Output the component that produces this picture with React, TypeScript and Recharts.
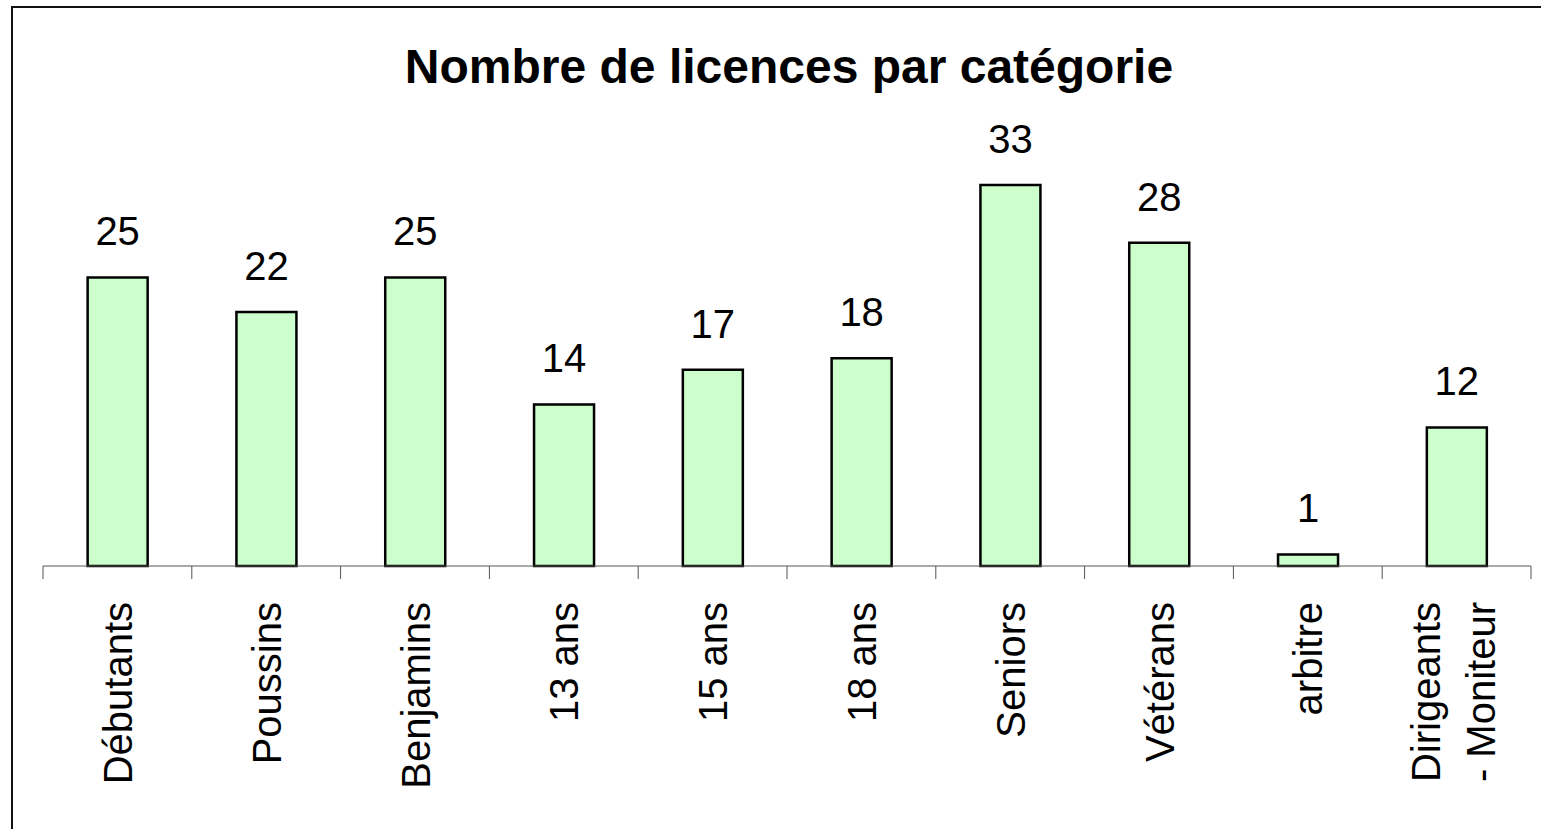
import React from "react";
import { BarChart, Bar, XAxis, YAxis, LabelList } from "recharts";

const categories = [
  "Débutants",
  "Poussins",
  "Benjamins",
  "13 ans",
  "15 ans",
  "18 ans",
  "Seniors",
  "Vétérans",
  "arbitre",
  "Dirigeants\n- Moniteur",
];
const licences = [25, 22, 25, 14, 17, 18, 33, 28, 1, 12];

const data = categories.map((name, i) => ({ name, value: licences[i] }));

const FONT = '"Liberation Sans", Arial, sans-serif';
const BAND = (1531 - 43) / categories.length;

// rotated labels plus boundary ticks (Excel puts tick marks between categories)
const CategoryTick = (props: any) => {
  const { x, y, payload, index } = props;
  const lines = String(payload.value).split("\n");
  const offsets = lines.length === 1 ? [14.6] : [-16.6, 38.4];
  const axisY = y - 15;
  const isLast = index === categories.length - 1;
  return (
    <g>
      <line x1={x - BAND / 2} x2={x - BAND / 2} y1={axisY} y2={axisY + 13} stroke="#555" />
      {isLast && (
        <line x1={x + BAND / 2} x2={x + BAND / 2} y1={axisY} y2={axisY + 13} stroke="#555" />
      )}
      <g transform={`translate(${x},${y + 21}) rotate(-90)`}>
        {lines.map((line, i) => (
          <text
            key={i}
            x={0}
            y={offsets[i]}
            textAnchor="end"
            fontSize={40}
            fontFamily={FONT}
            fill="#000"
          >
            {line}
          </text>
        ))}
      </g>
    </g>
  );
};

export default function App() {
  return (
    <div
      style={{
        position: "absolute",
        left: 0,
        top: 0,
        width: 1541,
        height: 829,
        background: "#fff",
        overflow: "hidden",
      }}
    >
      <div
        style={{
          position: "absolute",
          left: 11,
          top: 6,
          width: 1530,
          height: 823,
          borderTop: "2px solid #111",
          borderLeft: "2px solid #111",
          boxSizing: "border-box",
        }}
      />
      <div
        style={{
          position: "absolute",
          left: 0,
          width: 1578,
          top: 40,
          textAlign: "center",
          fontFamily: FONT,
          fontWeight: "bold",
          fontSize: 48,
          lineHeight: "54px",
          color: "#000",
        }}
      >
        Nombre de licences par catégorie
      </div>
      <div style={{ position: "absolute", left: 0, top: 0 }}>
        <BarChart
          width={1541}
          height={829}
          data={data}
          margin={{ top: 162, right: 10, bottom: 33, left: 43 }}
          barCategoryGap="30%"
        >
          <XAxis
            dataKey="name"
            height={230}
            interval={0}
            stroke="#555"
            tickSize={13}
            tick={<CategoryTick />}
            tickLine={{ stroke: "transparent" }}
          />
          <YAxis hide domain={[0, 35]} />
          <Bar
            dataKey="value"
            fill="#CCFFCC"
            stroke="#000"
            strokeWidth={2.5}
            isAnimationActive={false}
          >
            <LabelList
              dataKey="value"
              position="top"
              offset={32}
              fontSize={40}
              fontFamily={FONT}
              fill="#000"
            />
          </Bar>
        </BarChart>
      </div>
    </div>
  );
}
